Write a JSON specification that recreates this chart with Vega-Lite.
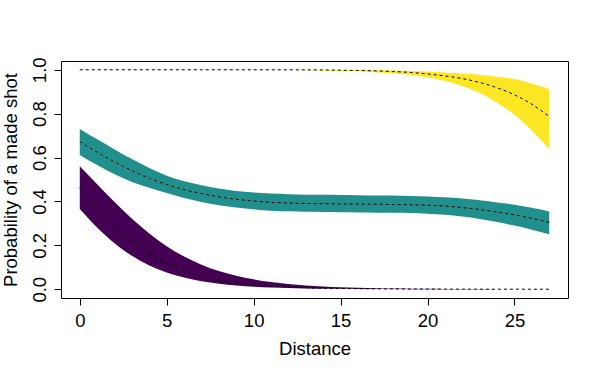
{
  "$schema": "https://vega.github.io/schema/vega-lite/v6.json",
  "width": 507,
  "height": 237,
  "autosize": "none",
  "padding": {"left": 61, "top": 61, "right": 31, "bottom": 77},
  "background": "white",
  "config": {
    "view": {"stroke": "black", "strokeWidth": 1},
    "font": "Liberation Sans",
    "axis": {"grid": false, "domain": false, "tickColor": "black", "tickSize": 7, "labelFontSize": 18.5, "titleFontSize": 18.5, "labelColor": "black", "titleColor": "black", "titleFontWeight": "normal", "labelFont": "Liberation Sans", "titleFont": "Liberation Sans"}
  },
  "data": {"values": [
    {"d":0,"g":"c","lo":0.9995,"mean":1.0,"hi":1.0},
    {"d":1,"g":"c","lo":0.9995,"mean":1.0,"hi":1.0},
    {"d":2,"g":"c","lo":0.9995,"mean":1.0,"hi":1.0},
    {"d":3,"g":"c","lo":0.9995,"mean":1.0,"hi":1.0},
    {"d":4,"g":"c","lo":0.9995,"mean":1.0,"hi":1.0},
    {"d":5,"g":"c","lo":0.9995,"mean":1.0,"hi":1.0},
    {"d":6,"g":"c","lo":0.9995,"mean":1.0,"hi":1.0},
    {"d":7,"g":"c","lo":0.9995,"mean":1.0,"hi":1.0},
    {"d":8,"g":"c","lo":0.9995,"mean":1.0,"hi":1.0},
    {"d":9,"g":"c","lo":0.9995,"mean":1.0,"hi":1.0},
    {"d":10,"g":"c","lo":0.9995,"mean":0.9999,"hi":1.0},
    {"d":11,"g":"c","lo":0.9993,"mean":0.9998,"hi":1.0},
    {"d":12,"g":"c","lo":0.999,"mean":0.9997,"hi":1.0},
    {"d":13,"g":"c","lo":0.998,"mean":0.9995,"hi":0.9999},
    {"d":14,"g":"c","lo":0.997,"mean":0.9992,"hi":0.9998},
    {"d":15,"g":"c","lo":0.995,"mean":0.998,"hi":0.9995},
    {"d":16,"g":"c","lo":0.993,"mean":0.997,"hi":0.999},
    {"d":17,"g":"c","lo":0.989,"mean":0.995,"hi":0.998},
    {"d":18,"g":"c","lo":0.984,"mean":0.992,"hi":0.997},
    {"d":19,"g":"c","lo":0.976,"mean":0.988,"hi":0.995},
    {"d":20,"g":"c","lo":0.965,"mean":0.981,"hi":0.992},
    {"d":21,"g":"c","lo":0.95,"mean":0.972,"hi":0.988},
    {"d":22,"g":"c","lo":0.926,"mean":0.96,"hi":0.983},
    {"d":23,"g":"c","lo":0.894,"mean":0.942,"hi":0.977},
    {"d":24,"g":"c","lo":0.85,"mean":0.918,"hi":0.968},
    {"d":25,"g":"c","lo":0.795,"mean":0.886,"hi":0.958},
    {"d":26,"g":"c","lo":0.723,"mean":0.843,"hi":0.938},
    {"d":27,"g":"c","lo":0.638,"mean":0.787,"hi":0.912},
    {"d":0,"g":"b","lo":0.612,"mean":0.673,"hi":0.73},
    {"d":1,"g":"b","lo":0.566,"mean":0.625,"hi":0.683},
    {"d":2,"g":"b","lo":0.524,"mean":0.58,"hi":0.637},
    {"d":3,"g":"b","lo":0.489,"mean":0.54,"hi":0.593},
    {"d":4,"g":"b","lo":0.462,"mean":0.506,"hi":0.552},
    {"d":5,"g":"b","lo":0.438,"mean":0.477,"hi":0.517},
    {"d":6,"g":"b","lo":0.416,"mean":0.454,"hi":0.492},
    {"d":7,"g":"b","lo":0.398,"mean":0.436,"hi":0.474},
    {"d":8,"g":"b","lo":0.383,"mean":0.421,"hi":0.459},
    {"d":9,"g":"b","lo":0.372,"mean":0.41,"hi":0.448},
    {"d":10,"g":"b","lo":0.364,"mean":0.402,"hi":0.441},
    {"d":11,"g":"b","lo":0.358,"mean":0.396,"hi":0.436},
    {"d":12,"g":"b","lo":0.355,"mean":0.393,"hi":0.433},
    {"d":13,"g":"b","lo":0.353,"mean":0.391,"hi":0.431},
    {"d":14,"g":"b","lo":0.352,"mean":0.39,"hi":0.43},
    {"d":15,"g":"b","lo":0.351,"mean":0.389,"hi":0.429},
    {"d":16,"g":"b","lo":0.35,"mean":0.388,"hi":0.428},
    {"d":17,"g":"b","lo":0.349,"mean":0.387,"hi":0.427},
    {"d":18,"g":"b","lo":0.348,"mean":0.386,"hi":0.427},
    {"d":19,"g":"b","lo":0.347,"mean":0.385,"hi":0.425},
    {"d":20,"g":"b","lo":0.344,"mean":0.383,"hi":0.423},
    {"d":21,"g":"b","lo":0.339,"mean":0.379,"hi":0.419},
    {"d":22,"g":"b","lo":0.331,"mean":0.372,"hi":0.413},
    {"d":23,"g":"b","lo":0.32,"mean":0.363,"hi":0.405},
    {"d":24,"g":"b","lo":0.306,"mean":0.352,"hi":0.395},
    {"d":25,"g":"b","lo":0.29,"mean":0.339,"hi":0.385},
    {"d":26,"g":"b","lo":0.271,"mean":0.323,"hi":0.371},
    {"d":27,"g":"b","lo":0.25,"mean":0.305,"hi":0.354},
    {"d":0,"g":"a","lo":0.366,"mean":0.46,"hi":0.56},
    {"d":1,"g":"a","lo":0.281,"mean":0.371,"hi":0.478},
    {"d":2,"g":"a","lo":0.209,"mean":0.289,"hi":0.397},
    {"d":3,"g":"a","lo":0.152,"mean":0.219,"hi":0.321},
    {"d":4,"g":"a","lo":0.108,"mean":0.162,"hi":0.254},
    {"d":5,"g":"a","lo":0.076,"mean":0.118,"hi":0.196},
    {"d":6,"g":"a","lo":0.053,"mean":0.085,"hi":0.149},
    {"d":7,"g":"a","lo":0.036,"mean":0.06,"hi":0.112},
    {"d":8,"g":"a","lo":0.025,"mean":0.042,"hi":0.083},
    {"d":9,"g":"a","lo":0.017,"mean":0.03,"hi":0.061},
    {"d":10,"g":"a","lo":0.0115,"mean":0.021,"hi":0.045},
    {"d":11,"g":"a","lo":0.0078,"mean":0.0143,"hi":0.033},
    {"d":12,"g":"a","lo":0.0053,"mean":0.01,"hi":0.024},
    {"d":13,"g":"a","lo":0.0036,"mean":0.0069,"hi":0.017},
    {"d":14,"g":"a","lo":0.0024,"mean":0.0048,"hi":0.0124},
    {"d":15,"g":"a","lo":0.0017,"mean":0.0033,"hi":0.0089},
    {"d":16,"g":"a","lo":0.0011,"mean":0.0023,"hi":0.0064},
    {"d":17,"g":"a","lo":0.0008,"mean":0.0016,"hi":0.0046},
    {"d":18,"g":"a","lo":0.0005,"mean":0.0011,"hi":0.0033},
    {"d":19,"g":"a","lo":0.0004,"mean":0.0008,"hi":0.0024},
    {"d":20,"g":"a","lo":0.0002,"mean":0.0005,"hi":0.0017},
    {"d":21,"g":"a","lo":0.0001,"mean":0.0004,"hi":0.0012},
    {"d":22,"g":"a","lo":0.0001,"mean":0.0003,"hi":0.0009},
    {"d":23,"g":"a","lo":0.0,"mean":0.0002,"hi":0.0006},
    {"d":24,"g":"a","lo":0.0,"mean":0.0001,"hi":0.0004},
    {"d":25,"g":"a","lo":0.0,"mean":0.0001,"hi":0.0003},
    {"d":26,"g":"a","lo":0.0,"mean":0.0,"hi":0.0002},
    {"d":27,"g":"a","lo":0.0,"mean":0.0,"hi":0.0001}
  ]},
  "encoding": {
    "x": {"field": "d", "type": "quantitative",
      "scale": {"domain": [-1.08, 28.08], "nice": false, "zero": false},
      "axis": {"values": [0, 5, 10, 15, 20, 25], "title": "Distance", "labelPadding": 6, "titlePadding": 9.5, "labelFlush": false}}
  },
  "layer": [
    {
      "mark": {"type": "area", "opacity": 1, "interpolate": "monotone"},
      "encoding": {
        "y": {"field": "lo", "type": "quantitative",
          "scale": {"domain": [-0.04, 1.04], "nice": false, "zero": false},
          "axis": {"values": [0, 0.2, 0.4, 0.6, 0.8, 1.0], "format": ".1f", "title": "Probability of a made shot", "labelAngle": -90, "labelPadding": 5, "titlePadding": 10, "labelFlush": false}},
        "y2": {"field": "hi"},
        "color": {"field": "g", "type": "nominal", "scale": {"domain": ["a", "b", "c"], "range": ["#440154", "#21908C", "#FDE725"]}, "legend": null}
      }
    },
    {
      "mark": {"type": "line", "color": "black", "strokeWidth": 1, "strokeDash": [3, 3], "interpolate": "monotone"},
      "encoding": {
        "y": {"field": "mean", "type": "quantitative"},
        "detail": {"field": "g", "type": "nominal"}
      }
    }
  ]
}
